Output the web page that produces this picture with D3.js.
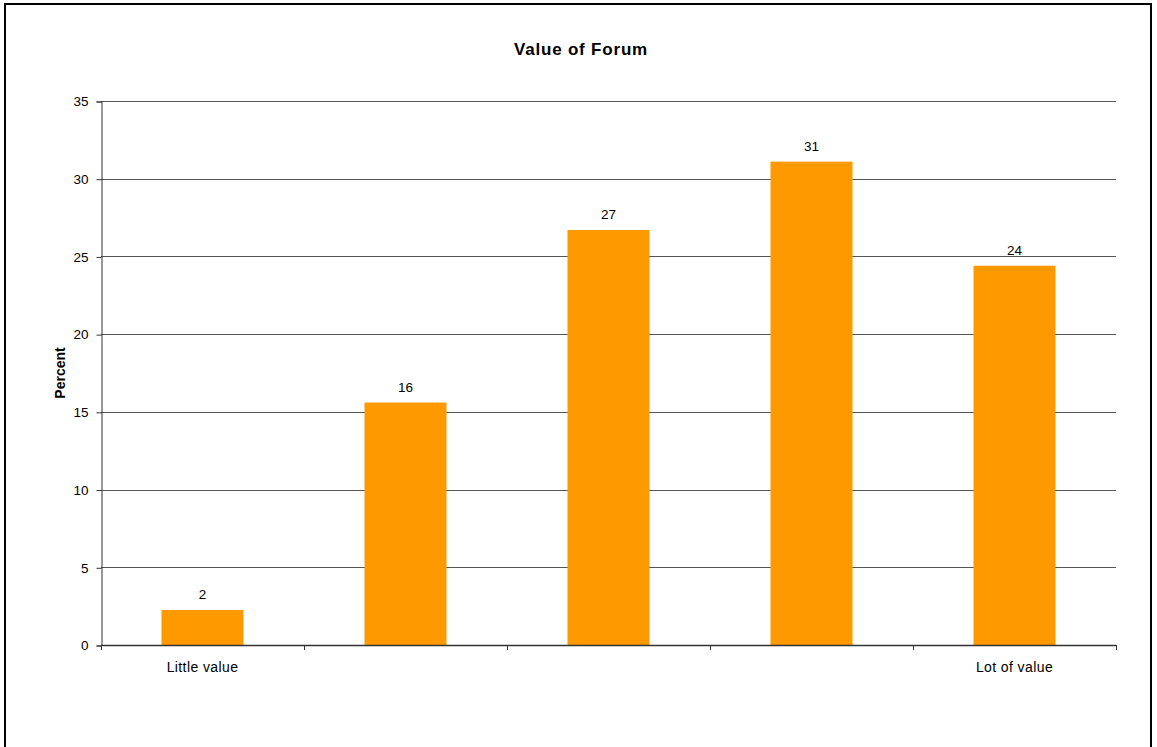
<!DOCTYPE html>
<html>
<head>
<meta charset="utf-8">
<script src="https://cdn.jsdelivr.net/npm/d3@7"></script>
<style>
  html, body { margin: 0; padding: 0; background: #fff; }
  svg { display: block; font-family: "Liberation Sans", Arial, sans-serif; }
</style>
</head>
<body>
<svg id="chart" width="1157" height="747"></svg>
<script>
// Survey responses: how valuable the forum was, on a five-point scale
const categories = ["Little value", "", "", "", "Lot of value"];
const percents = [2.25, 15.6, 26.7, 31.1, 24.4];
const yTicks = [0, 5, 10, 15, 20, 25, 30, 35];
const title = "Value of Forum";
const yTitle = "Percent";

const svg = d3.select("#chart");
const plot = { left: 101, top: 101, right: 1116, bottom: 645 };

// chart frame
svg.append("rect")
  .attr("x", 5).attr("y", 4)
  .attr("width", 1146).attr("height", 780)
  .attr("fill", "#fff").attr("stroke", "#000").attr("stroke-width", 2);

const x = d3.scaleBand()
  .domain(d3.range(categories.length))
  .range([plot.left, plot.right])
  .paddingInner(0.596)
  .paddingOuter(0.298);

const y = d3.scaleLinear().domain([0, 35]).range([plot.bottom, plot.top]);

// horizontal gridlines
svg.append("g").selectAll("line")
  .data(yTicks.filter(d => d > 0))
  .join("line")
  .attr("x1", plot.left).attr("x2", plot.right)
  .attr("y1", d => Math.round(y(d)) + 0.5).attr("y2", d => Math.round(y(d)) + 0.5)
  .attr("stroke", "#555").attr("stroke-width", 1);

// bars
svg.append("g").selectAll("rect")
  .data(percents)
  .join("rect")
  .attr("x", (d, i) => x(i))
  .attr("width", x.bandwidth())
  .attr("y", d => y(d))
  .attr("height", d => y(0) - y(d))
  .attr("fill", "#FF9900");

// value labels
svg.append("g").selectAll("text")
  .data(percents)
  .join("text")
  .attr("x", (d, i) => x(i) + x.bandwidth() / 2)
  .attr("y", d => y(d) - 11)
  .attr("text-anchor", "middle")
  .attr("font-size", 13.5)
  .attr("fill", "#000")
  .text(d => d3.format(".0f")(d));

// y axis
const yAxis = d3.axisLeft(y).tickValues(yTicks).tickSize(5).tickPadding(8);
const gy = svg.append("g")
  .attr("transform", `translate(${plot.left + 0.5},0.5)`)
  .call(yAxis);
gy.select(".domain").attr("stroke", "#333");
gy.selectAll(".tick line").attr("stroke", "#333");
gy.selectAll(".tick text")
  .attr("font-size", 13.5).attr("fill", "#000")
  .attr("font-family", "Liberation Sans, Arial, sans-serif");

// x axis: ticks between categories, labels under bar centres
const step = x.step();
const boundaries = d3.range(categories.length + 1).map(i => plot.left + i * step);
const gx = svg.append("g");
gx.append("line")
  .attr("x1", plot.left).attr("x2", plot.right)
  .attr("y1", plot.bottom + 0.5).attr("y2", plot.bottom + 0.5)
  .attr("stroke", "#333").attr("stroke-width", 1.5);
gx.selectAll("line.tk")
  .data(boundaries)
  .join("line")
  .attr("class", "tk")
  .attr("x1", d => Math.round(d) + 0.5).attr("x2", d => Math.round(d) + 0.5)
  .attr("y1", plot.bottom).attr("y2", plot.bottom + 5)
  .attr("stroke", "#333");
gx.selectAll("text")
  .data(categories)
  .join("text")
  .attr("x", (d, i) => x(i) + x.bandwidth() / 2)
  .attr("y", plot.bottom + 27)
  .attr("text-anchor", "middle")
  .attr("font-size", 14)
  .attr("letter-spacing", 0.4)
  .attr("fill", "#000")
  .text(d => d);

// titles
svg.append("text")
  .attr("x", 581).attr("y", 55)
  .attr("text-anchor", "middle")
  .attr("font-size", 17).attr("font-weight", "bold")
  .attr("letter-spacing", 0.8)
  .text(title);

svg.append("text")
  .attr("transform", `translate(65,${(plot.top + plot.bottom) / 2}) rotate(-90)`)
  .attr("text-anchor", "middle")
  .attr("font-size", 14).attr("font-weight", "bold")
  .text(yTitle);
</script>
</body>
</html>
